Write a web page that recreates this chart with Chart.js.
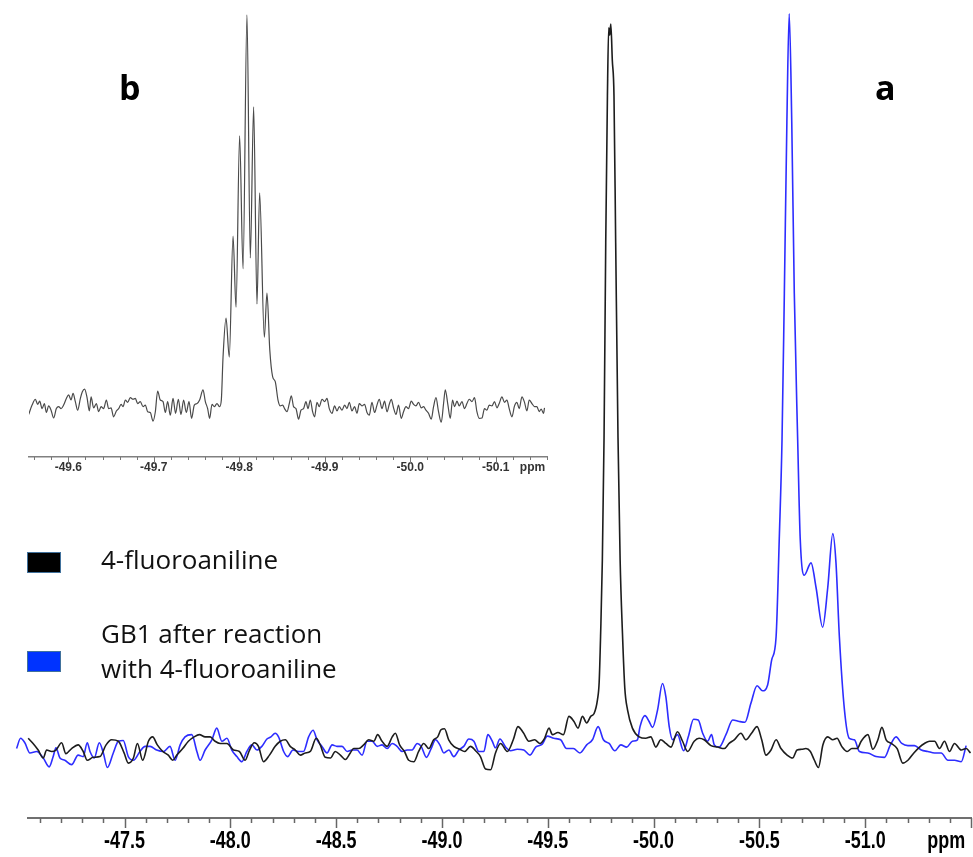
<!DOCTYPE html>
<html>
<head>
<meta charset="utf-8">
<title>19F NMR - 4-fluoroaniline / GB1</title>
<script src="https://cdn.jsdelivr.net/npm/chart.js@4.4.1/dist/chart.umd.min.js"></script>
<style>
  body { margin: 0; background: #fff; }
  #wrap { position: relative; width: 973px; height: 857px; overflow: hidden; background: #fff; }
  #mainChart, #insetChart { position: absolute; left: 0; top: 0; }
  .panel { position: absolute; top: 70px; font-family: "Open Sans", sans-serif; font-weight: 700; font-size: 34px; line-height: 34px; color: #000; }
  .legend-box { position: absolute; left: 27px; width: 34px; height: 21px; box-sizing: border-box; border: 1.5px solid #41719c; }
  .legend-text { position: absolute; left: 101px; font-family: "Open Sans", sans-serif; font-size: 26px; line-height: 35px; color: #111; white-space: nowrap; }
</style>
</head>
<body>
<div id="wrap">
  <canvas id="mainChart" width="973" height="857"></canvas>
  <canvas id="insetChart" width="560" height="480"></canvas>
  <div class="panel" style="left:119px">b</div>
  <div class="panel" style="left:875px">a</div>
  <div class="legend-box" style="top:552px;background:#000"></div>
  <div class="legend-text" style="top:542px">4-fluoroaniline</div>
  <div class="legend-box" style="top:651px;background:#0033ff"></div>
  <div class="legend-text" style="top:616px">GB1 after reaction<br>with 4-fluoroaniline</div>
</div>

<script>
// ---- data (ppm, intensity in a.u., tallest peak = 100) ----

// spectrum a : 4-fluoroaniline (black)
const blackPpm = [
  -47.045,-47.068,-47.092,-47.116,-47.132,-47.156,-47.176,-47.203,-47.223,-47.250,
  -47.281,-47.305,-47.324,-47.352,-47.384,-47.413,-47.439,-47.471,-47.498,-47.518,
  -47.542,-47.561,-47.586,-47.613,-47.633,-47.655,-47.681,-47.707,-47.728,-47.747,
  -47.775,-47.802,-47.829,-47.854,-47.881,-47.905,-47.928,-47.952,-47.984,-48.015,
  -48.043,-48.070,-48.091,-48.113,-48.133,-48.157,-48.185,-48.212,-48.236,-48.260,
  -48.283,-48.307,-48.331,-48.354,-48.378,-48.406,-48.425,-48.449,-48.473,-48.496,
  -48.520,-48.544,-48.567,-48.583,-48.607,-48.630,-48.654,-48.678,-48.696,-48.717,
  -48.741,-48.765,-48.780,-48.800,-48.823,-48.843,-48.867,-48.890,-48.914,-48.938,
  -48.961,-48.980,-48.996,-49.012,-49.032,-49.056,-49.084,-49.107,-49.135,-49.159,
  -49.182,-49.206,-49.230,-49.253,-49.277,-49.309,-49.337,-49.359,-49.384,-49.411,
  -49.438,-49.463,-49.485,-49.506,-49.522,-49.548,-49.574,-49.600,-49.624,-49.643,
  -49.664,-49.684,-49.703,-49.719,-49.735,-49.743,-49.750,-49.758,-49.766,-49.774,
  -49.782,-49.788,-49.793,-49.798,-49.805,-49.813,-49.821,-49.832,-49.842,-49.853,
  -49.864,-49.877,-49.900,-49.932,-49.963,-49.987,-50.011,-50.034,-50.058,-50.082,
  -50.113,-50.137,-50.161,-50.192,-50.215,-50.239,-50.271,-50.302,-50.334,-50.357,
  -50.381,-50.413,-50.436,-50.463,-50.489,-50.511,-50.531,-50.555,-50.579,-50.602,
  -50.631,-50.657,-50.678,-50.700,-50.720,-50.741,-50.760,-50.779,-50.800,-50.823,
  -50.847,-50.867,-50.889,-50.915,-50.937,-50.962,-50.981,-51.013,-51.036,-51.060,
  -51.079,-51.099,-51.123,-51.151,-51.178,-51.202,-51.230,-51.257,-51.280,-51.304,
  -51.328,-51.351,-51.375,-51.398,-51.422,-51.454,-51.477,-51.498
];
const blackInt = [
  0.9,0.2,-0.7,-1.8,-0.7,-0.9,-0.7,0.3,-1.2,-0.5,
  0,-0.9,-2.1,-1.7,-1.6,0,0.7,0.5,-1.1,-2.5,
  -1.8,0.2,-2.1,0.5,1.1,0,-0.9,-1.4,-2.1,-1.4,
  -0.5,0.5,1.1,1.4,1.1,1.1,0.5,0.2,0.2,-0.7,
  -0.9,-2.1,-0.7,0.3,-0.2,-2.3,-1.4,-0.2,0.5,0.7,
  -0.2,-0.7,-1.4,-1.1,-0.9,0.9,0,-1.7,-1.8,-0.9,
  -1.4,-2.0,-1.1,-0.5,-0.5,0,0.7,0.5,1.4,0.5,
  -0.2,1.1,1.6,0,-0.9,-2.1,-2.3,-0.9,0.2,-0.5,
  0.7,1.1,2.1,2.2,0.7,-0.2,-0.6,-0.9,-0.2,-0.8,
  -1.6,-3.3,-3.4,-1.1,0.2,-0.9,0.7,2.5,1.7,0.5,
  0.7,0.2,0.9,2.3,1.4,1.7,1.4,3.9,3.2,2.3,
  3.9,3.0,3.9,4.3,6.2,8.6,15.3,25.3,42.0,68.7,
  88.8,98.1,97.1,98.6,93.7,88.8,68.7,42.0,25.3,15.3,
  7.8,4.8,2.3,1.1,0.9,1.1,-0.3,0.7,0.2,-0.3,
  1.8,0.5,-0.9,0.5,0.9,0.7,-0.1,-0.3,-0.5,0.2,
  0.7,1.6,0.7,1.6,2.5,0.7,-1.4,-0.7,0.7,-0.5,
  -1.4,-1.8,-0.7,-0.6,-0.5,-0.9,-2.1,-3.1,0,1.1,
  0.7,0.9,-0.2,-0.9,-0.5,-0.5,0.5,1.4,-0.6,0.7,
  2.4,0.7,0.2,-0.5,-2.5,-2.1,-1.1,-0.3,0.2,0.5,
  0.5,-0.5,0.5,-0.9,0.2,-0.7,-0.5,-1.1
];

// spectrum a : GB1 after reaction with 4-fluoroaniline (blue)
const bluePpm = [
  -46.990,-47.009,-47.029,-47.053,-47.085,-47.116,-47.144,-47.163,-47.176,-47.195,
  -47.218,-47.250,-47.281,-47.305,-47.324,-47.337,-47.357,-47.381,-47.400,-47.419,
  -47.447,-47.471,-47.494,-47.518,-47.542,-47.573,-47.597,-47.621,-47.652,-47.684,
  -47.715,-47.739,-47.763,-47.786,-47.818,-47.842,-47.857,-47.881,-47.913,-47.936,
  -47.960,-47.984,-48.007,-48.031,-48.055,-48.078,-48.102,-48.126,-48.149,-48.173,
  -48.192,-48.212,-48.228,-48.252,-48.271,-48.296,-48.322,-48.346,-48.370,-48.391,
  -48.410,-48.433,-48.457,-48.481,-48.504,-48.528,-48.552,-48.575,-48.599,-48.623,
  -48.646,-48.670,-48.694,-48.717,-48.741,-48.765,-48.788,-48.812,-48.836,-48.859,
  -48.883,-48.902,-48.927,-48.949,-48.970,-48.990,-49.009,-49.033,-49.056,-49.080,
  -49.103,-49.127,-49.151,-49.174,-49.198,-49.217,-49.238,-49.253,-49.274,-49.301,
  -49.324,-49.356,-49.387,-49.416,-49.443,-49.474,-49.498,-49.529,-49.561,-49.589,
  -49.621,-49.652,-49.684,-49.711,-49.738,-49.763,-49.790,-49.817,-49.845,-49.873,
  -49.900,-49.924,-49.936,-49.959,-49.979,-49.995,-50.019,-50.042,-50.058,-50.074,
  -50.090,-50.113,-50.142,-50.164,-50.189,-50.211,-50.232,-50.255,-50.274,-50.287,
  -50.310,-50.342,-50.374,-50.405,-50.432,-50.460,-50.489,-50.515,-50.539,-50.558,
  -50.579,-50.594,-50.607,-50.618,-50.630,-50.641,-50.653,-50.665,-50.681,-50.693,
  -50.712,-50.744,-50.768,-50.799,-50.823,-50.847,-50.862,-50.878,-50.902,-50.925,
  -50.949,-50.973,-51.012,-51.051,-51.091,-51.119,-51.146,-51.173,-51.202,-51.233,
  -51.265,-51.296,-51.328,-51.359,-51.391,-51.422,-51.454,-51.477
];
const blueInt = [
  -0.5,0.9,0.3,-1.1,-0.9,-1.8,-3.0,-1.6,-0.4,-1.8,
  -2.1,-2.7,-1.4,-1.6,0.3,-0.9,-1.8,0.3,-1.1,-3.1,
  -1.1,0.5,0.6,-1.6,-2.1,-0.9,-0.2,-0.2,-0.7,-0.9,
  -0.2,-2.1,0,1.1,1.4,-0.9,-2.1,-0.7,0.7,2.3,
  0.5,0.9,-0.7,-1.6,-2.3,-0.9,0,-0.7,-0.2,0.8,
  1.1,1.6,1.1,-0.9,-1.6,-0.7,-0.9,-0.9,1.1,2.0,
  0.7,-0.2,-1.1,0,-0.2,-0.2,-0.9,-0.7,-0.7,-1.4,
  0.5,0.5,-0.2,0,-0.5,0.2,-0.2,-0.9,-0.7,-0.7,
  0.2,-0.2,-1.7,-0.5,0.7,0,-1.1,-0.7,-1.6,-0.7,
  -0.2,0.8,0.5,-0.9,-0.9,1.4,0.5,-0.4,0.8,-0.3,
  -0.8,-0.6,-0.7,-1.4,-0.3,0.1,1.2,0.9,0.7,-0.5,
  -0.5,-1.1,0,0.7,2.5,0.7,0.2,-0.8,0,-0.3,
  0.5,0.7,2.5,4.0,3.2,2.4,4.8,8.4,6.6,2.5,
  0.7,1.4,-0.8,1.1,3.5,3.4,1.6,0.5,1.4,0,
  -0.3,1.4,3.4,3.2,3.1,5.7,8.1,7.4,8.2,11.6,
  14.8,28.2,41.7,61.8,85.2,100,85.2,61.8,41.7,28.2,
  23.2,24.9,21.5,16.1,21.5,28.9,24.9,14.8,4.8,0.9,
  0.7,-0.9,-1.1,-1.6,-1.7,0,1.1,0.2,-0.1,-0.1,
  -0.7,-0.9,-1.1,-1.1,-2.1,-2.1,-2.3,-0.1
];

// spectrum b : expanded 4-fluoroaniline multiplet
const insetPpm = [
  -49.5536,-49.5576,-49.5614,-49.5641,-49.5665,-49.5693,-49.5720,-49.5743,-49.5770,-49.5798,
  -49.5828,-49.5860,-49.5887,-49.5915,-49.5945,-49.5977,-49.6004,-49.6032,-49.6055,-49.6082,
  -49.6109,-49.6141,-49.6164,-49.6191,-49.6219,-49.6246,-49.6266,-49.6296,-49.6328,-49.6355,
  -49.6383,-49.6413,-49.6445,-49.6472,-49.6500,-49.6530,-49.6562,-49.6589,-49.6617,-49.6640,
  -49.6667,-49.6694,-49.6725,-49.6757,-49.6784,-49.6811,-49.6842,-49.6874,-49.6901,-49.6928,
  -49.6959,-49.6991,-49.7018,-49.7045,-49.7076,-49.7108,-49.7135,-49.7162,-49.7193,-49.7225,
  -49.7255,-49.7287,-49.7318,-49.7349,-49.7380,-49.7412,-49.7442,-49.7474,-49.7506,-49.7536,
  -49.7576,-49.7603,-49.7630,-49.7653,-49.7681,-49.7708,-49.7739,-49.7770,-49.7790,-49.7810,
  -49.7845,-49.7883,-49.7927,-49.7962,-49.8004,-49.8044,-49.8090,-49.8129,-49.8168,-49.8207,
  -49.8238,-49.8293,-49.8324,-49.8357,-49.8390,-49.8421,-49.8453,-49.8480,-49.8507,-49.8530,
  -49.8558,-49.8585,-49.8609,-49.8635,-49.8663,-49.8694,-49.8722,-49.8752,-49.8780,-49.8804,
  -49.8831,-49.8858,-49.8881,-49.8909,-49.8936,-49.8968,-49.8998,-49.9026,-49.9053,-49.9085,
  -49.9115,-49.9143,-49.9170,-49.9202,-49.9232,-49.9260,-49.9287,-49.9318,-49.9349,-49.9377,
  -49.9404,-49.9435,-49.9466,-49.9494,-49.9521,-49.9552,-49.9583,-49.9611,-49.9638,-49.9669,
  -49.9700,-49.9728,-49.9755,-49.9778,-49.9805,-49.9833,-49.9863,-49.9895,-49.9922,-49.9950,
  -49.9980,-50.0012,-50.0039,-50.0067,-50.0097,-50.0129,-50.0156,-50.0184,-50.0214,-50.0246,
  -50.0273,-50.0301,-50.0331,-50.0363,-50.0390,-50.0410,-50.0441,-50.0468,-50.0495,-50.0519,
  -50.0547,-50.0573,-50.0605,-50.0635,-50.0663,-50.0690,-50.0722,-50.0752,-50.0780,-50.0807,
  -50.0839,-50.0869,-50.0897,-50.0924,-50.0956,-50.0986,-50.1014,-50.1041,-50.1073,-50.1103,
  -50.1131,-50.1158,-50.1190,-50.1220,-50.1248,-50.1275,-50.1307,-50.1337,-50.1365,-50.1392,
  -50.1424,-50.1454,-50.1482,-50.1509,-50.1532,-50.1559,-50.1571
];
const insetInt = [
  -2.4,0,1.5,0.2,1.0,-0.9,0.4,-1.9,-0.2,-1.3,
  -3.3,-0.9,-0.4,-0.9,0,1.7,2.6,1.3,3.0,0.9,
  -1.3,1.7,3.4,4.1,1.9,-1.5,2.1,-0.7,0.4,-1.7,
  -0.4,-0.9,1.3,-0.9,-0.7,-3.0,-1.5,-0.9,0.2,-0.4,
  1.3,0.7,1.9,1.5,1.7,0.4,0.9,-0.4,0,-1.7,
  -1.9,-4.1,-1.7,3.6,1.3,0.9,-1.9,0.9,-2.6,1.7,
  -2.1,1.5,-2.4,1.3,-1.9,0.9,-3.4,0,0.4,1.3,
  3.9,0.9,-0.9,-3.4,0.2,-0.4,0.4,-0.4,1.3,12.3,
  22.3,12.3,43.3,25.1,69.0,34.9,100,37.7,76.4,25.9,
  54.4,17.4,28.7,14.1,7.3,6.0,1.3,-0.2,0,-0.9,
  -1.7,0.4,2.4,-0.4,-0.9,-3.6,-1.3,-0.9,0.9,-0.9,
  1.3,-1.7,-3.0,0.7,-0.4,1.5,0.9,1.7,-0.9,-2.1,
  -0.2,-1.5,-0.4,-1.3,0,-0.9,0.7,-1.5,-0.4,-2.1,
  0.4,-0.2,0.2,-1.9,-2.6,0.7,-1.9,0,1.5,-0.9,
  1.0,-1.7,0.2,1.5,-0.7,-2.4,0,-3.4,-1.7,-0.4,
  -0.9,1.0,0.2,-0.2,0.7,-0.7,-0.4,-1.3,-2.1,-3.6,
  -0.4,1.9,-1.7,-4.4,0.4,3.9,0,-3.4,1.3,-0.4,
  1.0,-0.2,0.9,-0.9,0.4,1.5,0.9,1.9,-1.7,-3.4,
  -3.3,-0.9,-1.3,0,-0.2,0.9,-0.7,0.4,2.1,0.7,
  1.3,-0.9,-3.0,-0.2,0.7,-0.9,2.1,0.7,-1.5,1.3,
  0.4,-0.4,-0.4,-1.7,-1.0,-2.1,-0.7
];

// axis labels
const mainTickLabels = [-47.5, -48.0, -48.5, -49.0, -49.5, -50.0, -50.5, -51.0];
const insetTickLabels = [-49.6, -49.7, -49.8, -49.9, -50.0, -50.1];
const unitLabel = "ppm";

// ---- helpers ----
const toPoints = (xs, ys) => xs.map((x, i) => ({ x: x, y: ys[i] }));

// ticks every `minor` ppm, longer ones every `major` ppm, plus the "ppm" unit tag
function buildTicks(min, max, minor, major, unitAt) {
  const ticks = [];
  const n0 = Math.ceil(min / minor - 1e-6);
  const n1 = Math.floor(max / minor + 1e-6);
  for (let n = n0; n <= n1; n++) {
    const v = +(n * minor).toFixed(4);
    const r = v / major;
    ticks.push({ value: v, isMajor: Math.abs(r - Math.round(r)) < 1e-6 });
  }
  ticks.push({ value: unitAt, isUnit: true });
  ticks.sort((a, b) => a.value - b.value);
  return ticks;
}

function labelFor(value, labels) {
  if (labels.some((l) => Math.abs(l - value) < 1e-6)) return value.toFixed(1);
  return "";
}

// spectrometer style axis: short tick marks under the line and
// condensed bold labels (drawn at each tick's pixel from the scale)
const axisMarks = {
  id: "axisMarks",
  afterDraw(chart, args, o) {
    const scale = chart.scales.x;
    const ctx = chart.ctx;
    const labels = chart.canvas.id === "mainChart" ? mainTickLabels : insetTickLabels;
    ctx.save();
    ctx.strokeStyle = o.color;
    ctx.lineWidth = o.width;
    ctx.fillStyle = o.labelColor;
    ctx.font = o.font;
    ctx.textAlign = "center";
    ctx.textBaseline = "alphabetic";
    scale.ticks.forEach((t) => {
      const x = scale.getPixelForValue(t.value);
      const text = t.isUnit ? unitLabel : labelFor(t.value, labels);
      if (text) {
        ctx.save();
        ctx.translate(x, scale.top + o.labelOffset);
        ctx.scale(o.stretch, 1);
        ctx.fillText(text, 0, 0);
        ctx.restore();
      }
      if (t.isUnit) return;
      const px = Math.round(x) + 0.5;
      ctx.beginPath();
      ctx.moveTo(px, scale.top);
      ctx.lineTo(px, scale.top + (t.isMajor ? o.majorLen : o.minorLen));
      ctx.stroke();
    });
    ctx.restore();
  },
};

// ---- main spectrum (a) ----
const MAIN_MIN = -51.5, MAIN_MAX = -47.044;

new Chart(document.getElementById("mainChart"), {
  type: "line",
  data: {
    datasets: [
      {
        label: "4-fluoroaniline",
        data: toPoints(blackPpm, blackInt),
        borderColor: "#1d1d1d",
        borderWidth: 1.6,
        pointRadius: 0,
        cubicInterpolationMode: "monotone",
        clip: false,
      },
      {
        label: "GB1 after reaction with 4-fluoroaniline",
        data: toPoints(bluePpm, blueInt),
        borderColor: "#2d2dff",
        borderWidth: 1.6,
        pointRadius: 0,
        cubicInterpolationMode: "monotone",
        clip: false,
      },
    ],
  },
  options: {
    responsive: false,
    animation: false,
    devicePixelRatio: 1,
    layout: { padding: { left: 28, right: 2, top: 0, bottom: 0 } },
    plugins: {
      legend: { display: false },
      tooltip: { enabled: false },
      axisMarks: {
        color: "#666", width: 1.5, majorLen: 10, minorLen: 5,
        font: "bold 23px 'Liberation Sans', sans-serif",
        stretch: 0.78, labelOffset: 30, labelColor: "#000",
      },
    },
    scales: {
      x: {
        type: "linear",
        reverse: true,
        min: MAIN_MIN,
        max: MAIN_MAX,
        grid: { display: false, drawTicks: false },
        border: { display: true, color: "#707070", width: 2 },
        afterBuildTicks: (scale) => {
          scale.ticks = buildTicks(MAIN_MIN, MAIN_MAX, 0.1, 0.5, -51.383);
        },
        afterFit: (scale) => { scale.height = 39; },
        ticks: { display: false, autoSkip: false },
      },
      y: { display: false, min: -10, max: 101.9 },
    },
  },
  plugins: [axisMarks],
});

// ---- inset (b) : expanded multiplet ----
const INSET_MIN = -50.16, INSET_MAX = -49.554;

new Chart(document.getElementById("insetChart"), {
  type: "line",
  data: {
    datasets: [
      {
        label: "4-fluoroaniline (expanded)",
        data: toPoints(insetPpm, insetInt),
        borderColor: "#4a4a4a",
        borderWidth: 1.2,
        pointRadius: 0,
        cubicInterpolationMode: "monotone",
      },
    ],
  },
  options: {
    responsive: false,
    animation: false,
    devicePixelRatio: 1,
    layout: { padding: { left: 29, right: 13, top: 0, bottom: 0 } },
    plugins: {
      legend: { display: false },
      tooltip: { enabled: false },
      axisMarks: {
        color: "#777", width: 1, majorLen: 6, minorLen: 3,
        font: "bold 12px 'Liberation Sans', sans-serif",
        stretch: 1, labelOffset: 14, labelColor: "#333",
      },
    },
    scales: {
      x: {
        type: "linear",
        reverse: true,
        min: INSET_MIN,
        max: INSET_MAX,
        grid: { display: false, drawTicks: false },
        border: { display: true, color: "#808080", width: 1.5 },
        afterBuildTicks: (scale) => {
          scale.ticks = buildTicks(INSET_MIN, INSET_MAX, 0.02, 0.1, -50.143);
        },
        afterFit: (scale) => { scale.height = 23; },
        ticks: { display: false, autoSkip: false },
      },
      y: { display: false, min: -13.3, max: 103.8 },
    },
  },
  plugins: [axisMarks],
});
</script>
</body>
</html>
